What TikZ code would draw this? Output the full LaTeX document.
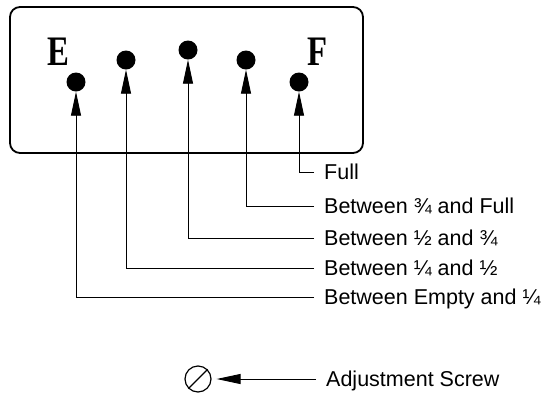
\documentclass[tikz,border=0pt]{standalone}
\usepackage{fontspec}
\newfontfamily\gaugefont{Liberation Sans}
\newfontfamily\dialfont{Liberation Serif}
\usetikzlibrary{arrows.meta}

\begin{document}
\begin{tikzpicture}[
  x=1pt, y=-1pt,
  panel/.style={rectangle, draw, line width=1.8pt, rounded corners=10pt, minimum width=353pt, minimum height=146pt},
  lamp/.style={circle, fill=black, minimum size=19pt, inner sep=0pt},
  dial/.style={font=\dialfont\bfseries\fontsize{42}{42}\selectfont, inner sep=0pt, anchor=base},
  reading/.style={anchor=west, font=\gaugefont\fontsize{21.5}{24}\selectfont, inner xsep=10pt, inner ysep=0pt, text height=15pt, text depth=0pt},
  pointer/.style={-{Triangle[length=24pt, width=10pt]}, line width=0.9pt}
]
  \useasboundingbox (0,0) rectangle (544,392);

  \node[panel] (panel) at (186.5,80) {};
  \node[dial] (empty) at (58,65) {\scalebox{0.78}[1]{E}};
  \node[dial] (full) at (318,65) {\scalebox{0.78}[1]{F}};

  \node[lamp] (lampA) at (76,82) {};
  \node[lamp] (lampB) at (126,60) {};
  \node[lamp] (lampC) at (188,50) {};
  \node[lamp] (lampD) at (246,60) {};
  \node[lamp] (lampE) at (299,82) {};

  % Readings
  \node[reading] (rE) at (314,172) {Full};
  \node[reading] (rD) at (314,206) {Between ¾ and Full};
  \node[reading] (rC) at (314,238) {Between ½ and ¾};
  \node[reading] (rB) at (314,268) {Between ¼ and ½};
  \node[reading] (rA) at (314,297) {Between Empty and ¼};

  \draw[pointer] (rE.west) -| (lampE.south);
  \draw[pointer] (rD.west) -| (lampD.south);
  \draw[pointer] (rC.west) -| (lampC.south);
  \draw[pointer] (rB.west) -| (lampB.south);
  \draw[pointer] (rA.west) -| (lampA.south);

  % Screw
  \node[circle, draw, line width=1.2pt, minimum size=26pt, inner sep=0pt] (screw) at (198,379) {};
  \draw[line width=1.2pt] (screw.south west) -- (screw.north east);
  \node[reading] (adjust) at (316,379) {Adjustment Screw};
  \draw[pointer, shorten >=5pt] (adjust.west) -- (screw.east);
\end{tikzpicture}
\end{document}
